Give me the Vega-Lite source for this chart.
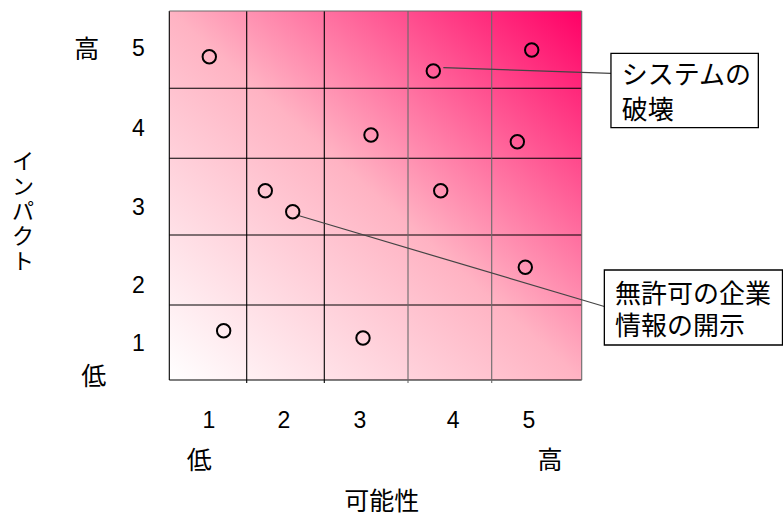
{
  "$schema": "https://vega.github.io/schema/vega-lite/v6.json",
  "width": 412.4,
  "height": 369,
  "autosize": {"type": "none"},
  "padding": {"left": 169.3, "top": 11, "right": 201.3, "bottom": 136},
  "background": "#ffffff",
  "config": {"view": {"stroke": null}},
  "datasets": {
    "bg": [{"x": 0.5, "x2": 5.5, "y": 0.5, "y2": 5.5}],
    "frameBlack": [
      {"x": 0.5, "x2": 0.5, "y": 0.5, "y2": 5.5},
      {"x": 0.5, "x2": 5.5, "y": 0.5, "y2": 0.5},
      {"x": 1.5, "x2": 1.5, "y": 0.46, "y2": 5.5},
      {"x": 2.5, "x2": 2.5, "y": 0.46, "y2": 5.5},
      {"x": 0.5, "x2": 5.5, "y": 1.5, "y2": 1.5},
      {"x": 0.5, "x2": 5.5, "y": 2.5, "y2": 2.5},
      {"x": 0.5, "x2": 5.5, "y": 3.5, "y2": 3.5},
      {"x": 0.5, "x2": 5.5, "y": 4.5, "y2": 4.5}
    ],
    "frameGrey": [
      {"x": 3.5, "x2": 3.5, "y": 0.46, "y2": 5.5},
      {"x": 4.5, "x2": 4.5, "y": 0.46, "y2": 5.5},
      {"x": 0.5, "x2": 5.5, "y": 5.5, "y2": 5.5},
      {"x": 5.5, "x2": 5.5, "y": 0.5, "y2": 5.5}
    ],
    "risks": [
      {"x": 1.013, "y": 4.892},
      {"x": 3.783, "y": 4.715},
      {"x": 5.032, "y": 4.975},
      {"x": 3.12, "y": 3.884},
      {"x": 4.85, "y": 3.774},
      {"x": 1.754, "y": 3.167},
      {"x": 2.115, "y": 2.916},
      {"x": 3.866, "y": 3.167},
      {"x": 4.959, "y": 2.177},
      {"x": 1.2, "y": 1.162},
      {"x": 3.038, "y": 1.066}
    ],
    "callouts": [
      {"x": 3.895, "y": 4.756, "x2": 5.774, "y2": 4.686},
      {"x": 2.163, "y": 2.857, "x2": 5.712, "y2": 1.48}
    ],
    "boxes": [
      {"x": 5.774, "x2": 7.154, "y": 4.934, "y2": 4.004},
      {"x": 5.712, "x2": 7.38, "y": 2.15, "y2": 0.973}
    ],
    "boxText": [
      {"x": 5.875, "y": 4.655, "t": "システムの"},
      {"x": 5.875, "y": 4.217, "t": "破壊"},
      {"x": 5.812, "y": 1.75, "t": "無許可の企業"},
      {"x": 5.812, "y": 1.204, "t": "情報の開示"}
    ],
    "endLabels": [
      {"x": -0.559, "y": 4.975, "t": "高"},
      {"x": -0.468, "y": 0.534, "t": "低"},
      {"x": 0.883, "y": -0.592, "t": "低"},
      {"x": 5.203, "y": -0.592, "t": "高"}
    ],
    "xTitle": [
      {"x": 3.23, "y": -1.145, "t": "可能性"}
    ],
    "yTitle": [
      {"x": -1.376, "y": 3.462, "t": "イ\nン\nパ\nク\nト"}
    ]
  },
  "encoding": {
    "x": {
      "field": "x",
      "type": "quantitative",
      "scale": {
        "domain": [0.5, 1, 1.5, 2, 2.5, 3, 3.5, 4, 4.5, 5, 5.5],
        "range": [0, 39, 77.4, 114, 155, 190, 238.7, 283.4, 322.4, 359, 412.4],
        "nice": false,
        "zero": false
      },
      "axis": {
        "values": [1, 2, 3, 4, 5],
        "title": null,
        "domain": false,
        "ticks": false,
        "grid": false,
        "labelFlush": false,
        "labelOverlap": false,
        "labelFont": "Liberation Sans",
        "labelFontSize": 23,
        "labelColor": "#000000",
        "labelPadding": 40,
        "labelBaseline": "middle"
      }
    },
    "y": {
      "field": "y",
      "type": "quantitative",
      "scale": {
        "domain": [0.5, 1, 1.5, 2, 2.5, 3, 3.5, 4, 4.5, 5, 5.5],
        "range": [369, 332, 294, 274, 224, 196, 147.3, 117, 77.3, 37, 0],
        "nice": false,
        "zero": false
      },
      "axis": {
        "values": [1, 2, 3, 4, 5],
        "title": null,
        "domain": false,
        "ticks": false,
        "grid": false,
        "labelFlush": false,
        "labelOverlap": false,
        "labelFont": "Liberation Sans",
        "labelFontSize": 23,
        "labelColor": "#000000",
        "labelPadding": 25,
        "labelAlign": "right",
        "labelBaseline": "middle"
      }
    }
  },
  "layer": [
    {
      "data": {"name": "bg"},
      "mark": {
        "type": "rect",
        "color": {
          "gradient": "linear",
          "x1": 0, "y1": 1, "x2": 1, "y2": 0,
          "stops": [
            {"offset": 0, "color": "#FFFFFF"},
            {"offset": 0.5, "color": "#FFB3C3"},
            {"offset": 1, "color": "#FF0066"}
          ]
        }
      },
      "encoding": {"x2": {"field": "x2"}, "y2": {"field": "y2"}}
    },
    {
      "data": {"name": "frameBlack"},
      "mark": {"type": "rule", "color": "#000000", "strokeWidth": 1.1},
      "encoding": {"x2": {"field": "x2"}, "y2": {"field": "y2"}}
    },
    {
      "data": {"name": "frameGrey"},
      "mark": {"type": "rule", "color": "#6a6a6a", "strokeWidth": 1.1},
      "encoding": {"x2": {"field": "x2"}, "y2": {"field": "y2"}}
    },
    {
      "data": {"name": "callouts"},
      "mark": {"type": "rule", "color": "#444444", "strokeWidth": 1.2},
      "encoding": {"x2": {"field": "x2"}, "y2": {"field": "y2"}}
    },
    {
      "data": {"name": "risks"},
      "mark": {"type": "point", "shape": "circle", "filled": false, "stroke": "#000000", "strokeWidth": 2, "size": 180, "opacity": 1}
    },
    {
      "data": {"name": "boxes"},
      "mark": {"type": "rect", "fill": "#FFFFFF", "stroke": "#000000", "strokeWidth": 1.3},
      "encoding": {"x2": {"field": "x2"}, "y2": {"field": "y2"}}
    },
    {
      "data": {"name": "boxText"},
      "mark": {"type": "text", "align": "left", "baseline": "middle", "font": "Noto Sans CJK JP", "fontSize": 26, "color": "#000000"},
      "encoding": {"text": {"field": "t"}}
    },
    {
      "data": {"name": "endLabels"},
      "mark": {"type": "text", "align": "center", "baseline": "middle", "font": "Noto Sans CJK JP", "fontSize": 25, "color": "#000000"},
      "encoding": {"text": {"field": "t"}}
    },
    {
      "data": {"name": "xTitle"},
      "mark": {"type": "text", "align": "center", "baseline": "middle", "font": "Noto Sans CJK JP", "fontSize": 25, "color": "#000000"},
      "encoding": {"text": {"field": "t"}}
    },
    {
      "data": {"name": "yTitle"},
      "mark": {"type": "text", "align": "center", "baseline": "middle", "font": "Noto Sans CJK JP", "fontSize": 22, "lineBreak": "\n", "lineHeight": 25, "color": "#000000"},
      "encoding": {"text": {"field": "t"}}
    }
  ]
}
